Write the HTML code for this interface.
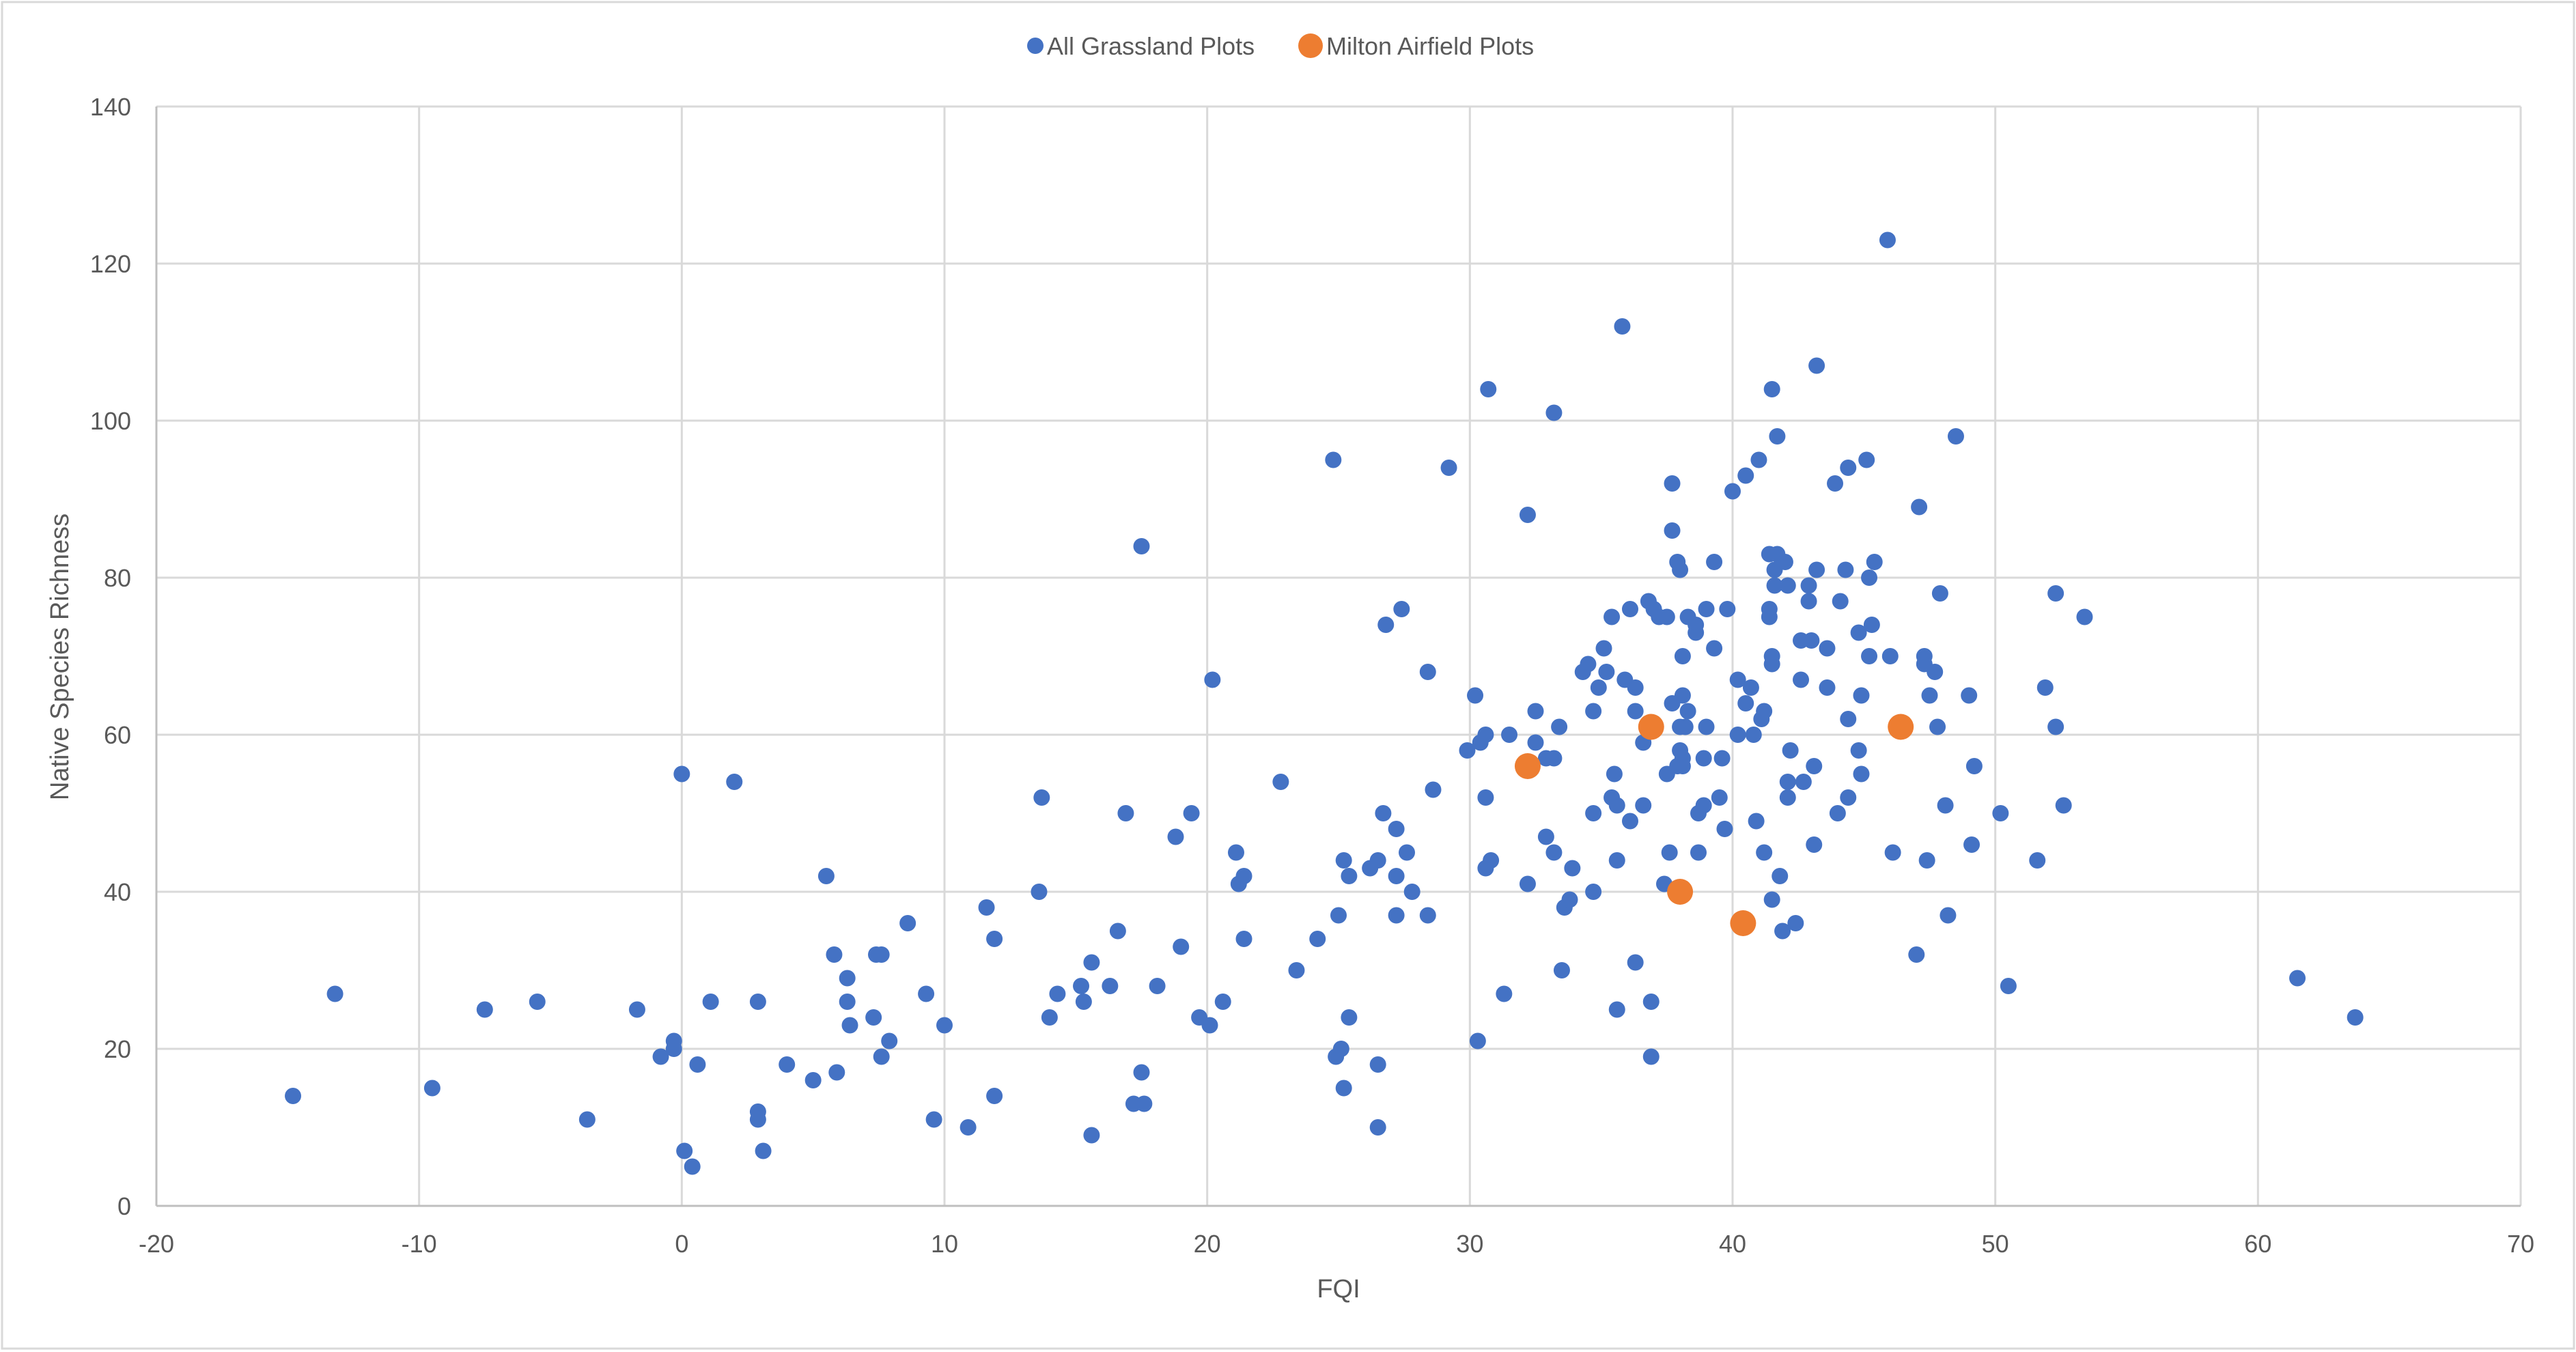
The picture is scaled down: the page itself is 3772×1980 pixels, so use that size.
<!DOCTYPE html>
<html><head><meta charset="utf-8"><style>
html,body{margin:0;padding:0;background:#fff;}
svg{display:block;font-family:"Liberation Sans",Arial,sans-serif;}
</style></head><body>
<svg id="chart" width="3772" height="1980" viewBox="0 0 3772 1980" xmlns="http://www.w3.org/2000/svg">
<rect x="3" y="3" width="3766" height="1972" fill="#fff" stroke="#d9d9d9" stroke-width="3"/>
<g id="grid"></g>
<g id="ticks"></g>
<g id="marks"></g>
<text x="0" y="0" transform="translate(100,962) rotate(-90)" text-anchor="middle" font-size="38" fill="#595959">Native Species Richness</text>
<text x="1960" y="1900" text-anchor="middle" font-size="38" fill="#595959">FQI</text>
<g>
<g>
<circle cx="1516" cy="67" r="12" fill="#4472c4"/>
<text x="1533" y="80" font-size="36" fill="#595959">All Grassland Plots</text>
</g>
<g>
<circle cx="1919" cy="67" r="18" fill="#ed7d31"/>
<text x="1942" y="80" font-size="36" fill="#595959">Milton Airfield Plots</text>
</g>
</g>
</svg>
<script>
const xTicks=[-20,-10,0,10,20,30,40,50,60,70];
const yTicks=[0,20,40,60,80,100,120,140];
const allX=[-14.8,-13.2,-9.5,-7.5,-5.5,-3.6,-1.7,-0.8,-0.3,-0.3,0,0.1,0.4,0.6,1.1,2,2.9,2.9,2.9,3.1,4,5,5.5,5.8,5.9,6.3,6.3,6.4,7.3,7.4,7.6,7.6,7.9,8.6,9.3,9.6,10,10.9,11.6,11.9,11.9,13.6,13.7,14,14.3,15.2,15.3,15.6,15.6,16.3,16.6,16.9,17.2,17.5,17.5,17.6,18.1,18.8,19,19.4,19.7,20.1,20.2,20.6,21.1,21.2,21.4,21.4,22.8,23.4,24.2,24.8,24.9,25,25.1,25.2,25.2,25.4,25.4,26.2,26.5,26.5,26.5,26.7,26.8,27.2,27.2,27.2,27.4,27.6,27.8,28.4,28.4,28.6,29.2,29.9,30.2,30.3,30.4,30.6,30.6,30.6,30.7,30.8,31.3,31.5,32.2,32.2,32.5,32.5,32.9,32.9,33.2,33.2,33.2,33.4,33.5,33.6,33.8,33.9,34.3,34.5,34.7,34.7,34.7,34.9,35.1,35.2,35.4,35.4,35.5,35.6,35.6,35.6,35.8,35.9,36.1,36.1,36.3,36.3,36.3,36.6,36.6,36.8,36.9,36.9,37,37.2,37.5,37.4,37.5,37.6,37.7,37.7,37.7,37.9,37.9,38,38,38,38.1,38.1,38.1,38.1,38.2,38.3,38.3,38.6,38.6,38.7,38.7,38.9,38.9,39,39,39.3,39.3,39.5,39.6,39.7,39.8,40,40.2,40.2,40.5,40.5,40.7,40.8,40.9,41,41.1,41.2,41.2,41.4,41.4,41.4,41.5,41.5,41.5,41.5,41.6,41.6,41.7,41.7,41.8,41.9,42,42.1,42.1,42.1,42.2,42.4,42.6,42.6,42.7,42.9,42.9,43,43.1,43.1,43.2,43.2,43.6,43.6,43.9,44,44.1,44.3,44.4,44.4,44.4,44.8,44.8,44.9,44.9,45.1,45.2,45.2,45.3,45.4,45.9,46,46.1,47,47.1,47.3,47.3,47.4,47.5,47.7,47.8,47.9,48.1,48.2,48.5,49,49.1,49.2,50.2,50.5,51.6,51.9,52.3,52.3,52.6,53.4,61.5,63.7];
const allY=[14,27,15,25,26,11,25,19,21,20,55,7,5,18,26,54,26,12,11,7,18,16,42,32,17,29,26,23,24,32,32,19,21,36,27,11,23,10,38,34,14,40,52,24,27,28,26,31,9,28,35,50,13,84,17,13,28,47,33,50,24,23,67,26,45,41,42,34,54,30,34,95,19,37,20,44,15,42,24,43,44,10,18,50,74,42,37,48,76,45,40,68,37,53,94,58,65,21,59,60,52,43,104,44,27,60,41,88,59,63,47,57,101,45,57,61,30,38,39,43,68,69,63,40,50,66,71,68,75,52,55,51,44,25,112,67,76,49,66,63,31,51,59,77,19,26,76,75,75,41,55,45,92,86,64,56,82,81,61,58,65,70,57,56,61,75,63,73,74,50,45,51,57,61,76,82,71,52,57,48,76,91,60,67,93,64,66,60,49,95,62,63,45,83,76,75,39,104,70,69,79,81,83,98,42,35,82,54,52,79,58,36,67,72,54,79,77,72,46,56,107,81,71,66,92,50,77,81,94,62,52,73,58,55,65,95,80,70,74,82,123,70,45,32,89,69,70,44,65,68,61,78,51,37,98,65,46,56,50,28,44,66,78,61,51,75,29,24];
const miltonX=[32.2,36.9,38,40.4,46.4];
const miltonY=[56,61,40,36,61];

const NS='http://www.w3.org/2000/svg';
const L=229,R=3691,T=156,B=1766,XMIN=-20,XMAX=70,YMIN=0,YMAX=140;
function sx(v){return L+(v-XMIN)/(XMAX-XMIN)*(R-L);}
function sy(v){return B-(v-YMIN)/(YMAX-YMIN)*(B-T);}
function mk(tag,attrs,parent){const e=document.createElementNS(NS,tag);for(const k in attrs)e.setAttribute(k,attrs[k]);parent.appendChild(e);return e;}
const grid=document.getElementById('grid'),ticks=document.getElementById('ticks'),marks=document.getElementById('marks');
xTicks.forEach(t=>{
  const ln=mk('line',{x1:sx(t),x2:sx(t),y1:T,y2:B,stroke:'#d9d9d9','stroke-width':3},grid);
  
  
  const tx=mk('text',{x:sx(t),y:1834,'text-anchor':'middle','font-size':36,fill:'#595959'},ticks);
  tx.textContent=t;
  
  
});
yTicks.forEach(t=>{
  const ln=mk('line',{x1:L,x2:R,y1:sy(t),y2:sy(t),stroke:'#d9d9d9','stroke-width':3},grid);
  
  
  const tx=mk('text',{x:192,y:sy(t)+13,'text-anchor':'end','font-size':36,fill:'#595959'},ticks);
  tx.textContent=t;
  
  
});
const axL=mk('line',{x1:L,x2:L,y1:T,y2:B,stroke:'#bfbfbf','stroke-width':3},grid);


const axB=mk('line',{x1:L,x2:R,y1:B,y2:B,stroke:'#bfbfbf','stroke-width':3},grid);


allX.forEach((x,i)=>{
  const c=mk('circle',{cx:sx(x),cy:sy(allY[i]),r:12,fill:'#4472c4'},marks);
  
  
});
miltonX.forEach((x,i)=>{
  const c=mk('circle',{cx:sx(x),cy:sy(miltonY[i]),r:19,fill:'#ed7d31'},marks);
  
  
});
</script>
</body></html>
